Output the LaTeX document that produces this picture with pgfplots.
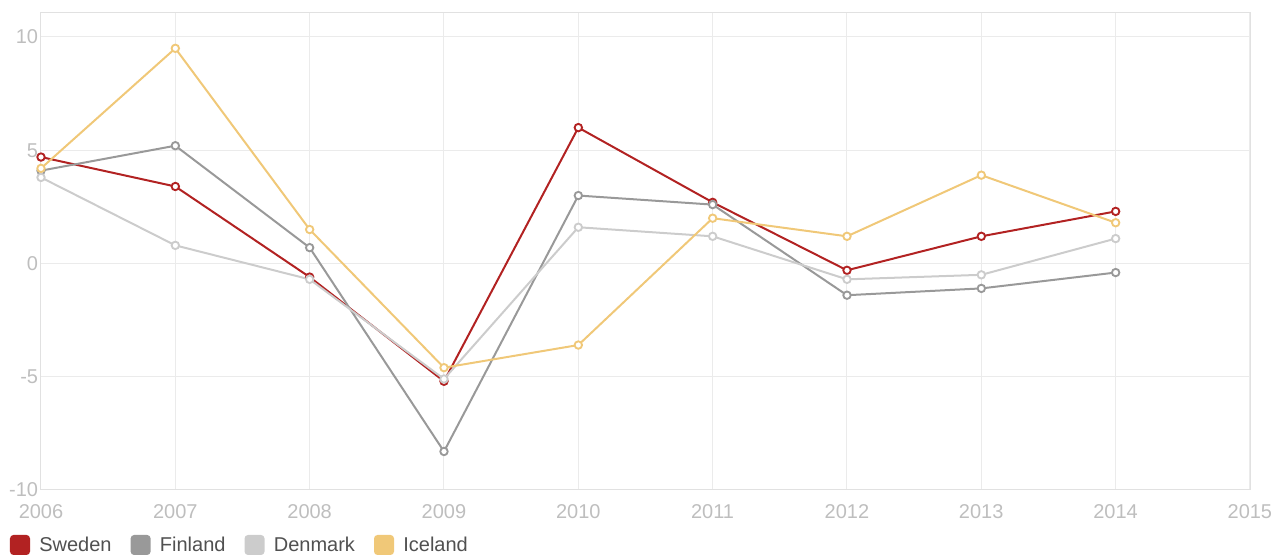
\documentclass[border=0pt]{standalone}
\usepackage{pgfplots}
\pgfplotsset{compat=1.18}
\usepackage{fontspec}
\setmainfont{Liberation Sans}
\definecolor{sweden}{RGB}{178,34,34}
\definecolor{finland}{RGB}{153,153,153}
\definecolor{denmark}{RGB}{204,204,204}
\definecolor{iceland}{RGB}{240,200,120}
\definecolor{gridc}{RGB}{235,235,235}
\definecolor{framec}{RGB}{225,225,225}
\definecolor{tickc}{RGB}{190,190,190}
\definecolor{legc}{RGB}{80,80,80}
\begin{document}
\begin{tikzpicture}
\path[use as bounding box] (-30.75pt,-48.75pt) rectangle (935.25pt,367.5pt);
\begin{axis}[
  at={(0,0)}, anchor=south west,
  scale only axis,
  width=906.75pt, height=357.75pt,
  xmin=2006, xmax=2015, ymin=-10, ymax=11.06,
  xtick={2006,...,2015},
  ytick={-10,-5,0,5,10},
  /pgf/number format/1000 sep={},
  /pgf/number format/assume math mode=true,
  major tick length=0pt,
  grid=major,
  major grid style={draw=gridc, line width=0.75pt},
  axis line style={draw=framec, line width=0.75pt},
  tick label style={font=\fontsize{15}{18}\selectfont, text=tickc},
  xticklabel style={anchor=north, inner sep=0pt, yshift=-10.5pt},
  yticklabel style={anchor=east, inner sep=0pt, xshift=-2pt},
  legend columns=4,
  legend style={at={(0,0)}, anchor=north west, xshift=-23.25pt, yshift=-33.75pt,
    draw=none, fill=none, inner sep=0pt, outer sep=0pt,
    font=\fontsize{15}{18}\selectfont, text=legc,
    nodes={inner sep=0pt},
    /tikz/every even column/.append style={column sep=14.25pt}},
  legend cell align=left,
  legend image code/.code={\fill[#1, rounded corners=2pt] (0pt,-6.75pt) rectangle (13.5pt,6.75pt); \path (20.5pt,0pt);},
  every axis plot/.append style={mark=*, mark size=2.8pt, line width=1.5pt},
]
\addplot[color=sweden, mark options={fill=white, line width=1.4pt}] coordinates {
 (2006,4.7) (2007,3.4) (2008,-0.6) (2009,-5.2) (2010,6.0) (2011,2.7) (2012,-0.3) (2013,1.2) (2014,2.3)};
\addlegendentry{Sweden}
\addplot[color=finland, mark options={fill=white, line width=1.4pt}] coordinates {
 (2006,4.1) (2007,5.2) (2008,0.7) (2009,-8.3) (2010,3.0) (2011,2.6) (2012,-1.4) (2013,-1.1) (2014,-0.4)};
\addlegendentry{Finland}
\addplot[color=denmark, mark options={fill=white, line width=1.4pt}] coordinates {
 (2006,3.8) (2007,0.8) (2008,-0.7) (2009,-5.1) (2010,1.6) (2011,1.2) (2012,-0.7) (2013,-0.5) (2014,1.1)};
\addlegendentry{Denmark}
\addplot[color=iceland, mark options={fill=white, line width=1.4pt}] coordinates {
 (2006,4.2) (2007,9.5) (2008,1.5) (2009,-4.6) (2010,-3.6) (2011,2.0) (2012,1.2) (2013,3.9) (2014,1.8)};
\addlegendentry{Iceland}
\end{axis}
\end{tikzpicture}
\end{document}
